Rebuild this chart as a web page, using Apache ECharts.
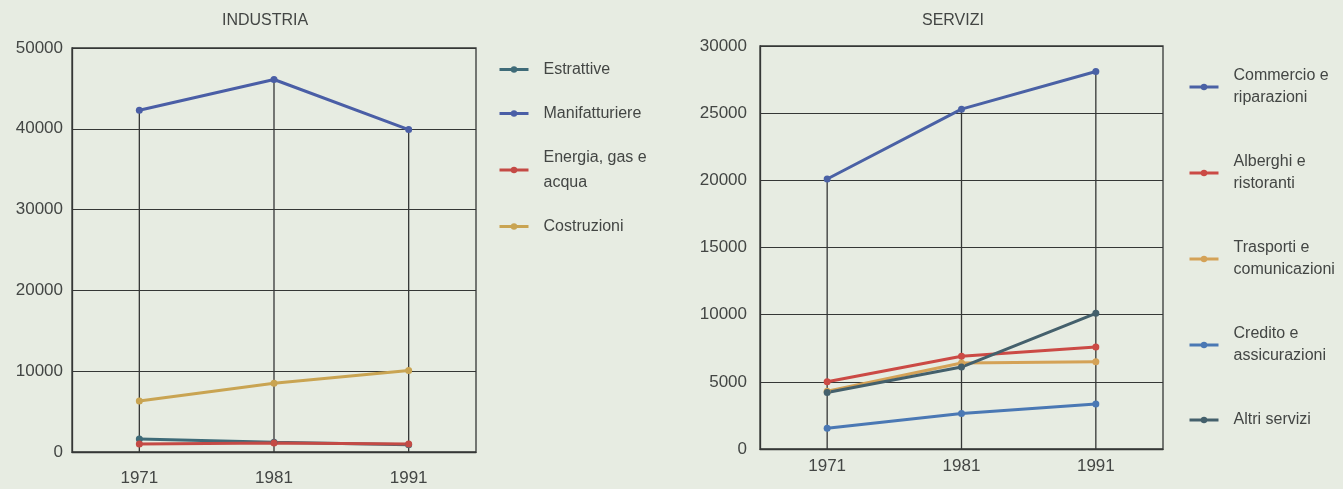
<!DOCTYPE html>
<html>
<head>
<meta charset="utf-8">
<title>Industria e Servizi</title>
<script src="https://cdn.jsdelivr.net/npm/echarts@6/dist/echarts.min.js"></script>
<style>
  html, body { margin: 0; padding: 0; background: #e7ece2; }
  #chart { width: 1343px; height: 489px; }
</style>
</head>
<body>
<div id="chart"></div>
<script>
  // anni (categorie)
  var anni = ['1971', '1981', '1991']

  // INDUSTRIA
  var estrattive = [1600, 1200, 900]
  var manifatturiere = [42300, 46100, 39900]
  var energia = [1000, 1100, 1000]
  var costruzioni = [6300, 8500, 10100]

  // SERVIZI
  var commercio = [20100, 25300, 28100]
  var alberghi = [5000, 6900, 7600]
  var trasporti = [4300, 6400, 6500]
  var credito = [1550, 2650, 3350]
  var altriServizi = [4200, 6100, 10100]

  var textColor = '#434644'
  var lineColor = '#353736'
  var fontFamily = 'Liberation Sans, Arial, sans-serif'

  function serie (name, data, color, idx) {
    return {
      name: name,
      type: 'line',
      xAxisIndex: idx,
      yAxisIndex: idx,
      data: data,
      symbol: 'circle',
      symbolSize: 7,
      color: color,
      lineStyle: { width: 3, color: color },
      itemStyle: { color: color },
      z: 3
    }
  }

  // linea verticale dal valore massimo all'asse
  function guida (data, idx) {
    return {
      type: 'bar',
      xAxisIndex: idx,
      yAxisIndex: idx,
      data: data,
      barWidth: 1.3,
      silent: true,
      itemStyle: { color: lineColor },
      z: 1
    }
  }

  function asseX (idx, margin) {
    return {
      type: 'category',
      gridIndex: idx,
      data: anni,
      boundaryGap: true,
      axisLine: { lineStyle: { color: lineColor, width: 1.3 } },
      axisTick: { show: false },
      axisLabel: { color: textColor, fontSize: 17, fontFamily: fontFamily, margin: margin },
      splitLine: { show: false }
    }
  }

  function asseY (idx, max, interval, margin) {
    return {
      type: 'value',
      gridIndex: idx,
      min: 0,
      max: max,
      interval: interval,
      axisLine: { show: true, lineStyle: { color: lineColor, width: 1.3 } },
      axisTick: { show: false },
      axisLabel: {
        color: textColor, fontSize: 17, fontFamily: fontFamily, margin: margin,
        formatter: function (v) { return String(v) }
      },
      splitLine: { show: true, lineStyle: { color: lineColor, width: 1.2 } }
    }
  }

  var chart = echarts.init(document.getElementById('chart'))
  chart.setOption({
    backgroundColor: '#e7ece2',
    animation: false,
    title: [
      {
        text: 'INDUSTRIA', left: 222, top: 13, padding: 0,
        textStyle: { color: textColor, fontSize: 16, fontWeight: 'normal', fontFamily: fontFamily }
      },
      {
        text: 'SERVIZI', left: 922, top: 13, padding: 0,
        textStyle: { color: textColor, fontSize: 16, fontWeight: 'normal', fontFamily: fontFamily }
      }
    ],
    legend: [
      {
        orient: 'vertical',
        left: 498,
        top: 57,
        padding: 0,
        itemWidth: 29,
        itemHeight: 8,
        itemGap: 19,
        lineStyle: { width: 3 },
        data: ['Estrattive', 'Manifatturiere', 'Energia, gas e acqua', 'Costruzioni'],
        formatter: function (name) {
          return name === 'Energia, gas e acqua' ? 'Energia, gas e\nacqua' : name
        },
        textStyle: { color: textColor, fontSize: 16, lineHeight: 25, fontFamily: fontFamily, padding: [0, 0, 0, 10] }
      },
      {
        orient: 'vertical',
        left: 1188,
        top: 65,
        padding: 0,
        itemWidth: 29,
        itemHeight: 8,
        itemGap: 42,
        lineStyle: { width: 3 },
        data: ['Commercio e riparazioni', 'Alberghi e ristoranti', 'Trasporti e comunicazioni', 'Credito e assicurazioni', 'Altri servizi'],
        formatter: function (name) {
          return name === 'Altri servizi' ? name : name.replace(' e ', ' e\n')
        },
        textStyle: { color: textColor, fontSize: 16, lineHeight: 22, fontFamily: fontFamily, padding: [0, 0, 0, 10] }
      }
    ],
    grid: [
      { left: 72, top: 48, width: 404, height: 404, show: true, borderColor: lineColor, borderWidth: 1.3, backgroundColor: 'transparent' },
      { left: 760, top: 46, width: 403, height: 403, show: true, borderColor: lineColor, borderWidth: 1.3, backgroundColor: 'transparent' }
    ],
    xAxis: [asseX(0, 18), asseX(1, 9)],
    yAxis: [asseY(0, 50000, 10000, 9), asseY(1, 30000, 5000, 13)],
    series: [
      guida(manifatturiere, 0),
      serie('Estrattive', estrattive, '#3f6b78', 0),
      serie('Manifatturiere', manifatturiere, '#4a5ea6', 0),
      serie('Energia, gas e acqua', energia, '#c44a45', 0),
      serie('Costruzioni', costruzioni, '#c9a452', 0),
      guida(commercio, 1),
      serie('Commercio e riparazioni', commercio, '#4a61a5', 1),
      serie('Alberghi e ristoranti', alberghi, '#cb4a45', 1),
      serie('Trasporti e comunicazioni', trasporti, '#d4a257', 1),
      serie('Credito e assicurazioni', credito, '#4a78b4', 1),
      serie('Altri servizi', altriServizi, '#44606c', 1)
    ]
  })
</script>
</body>
</html>
